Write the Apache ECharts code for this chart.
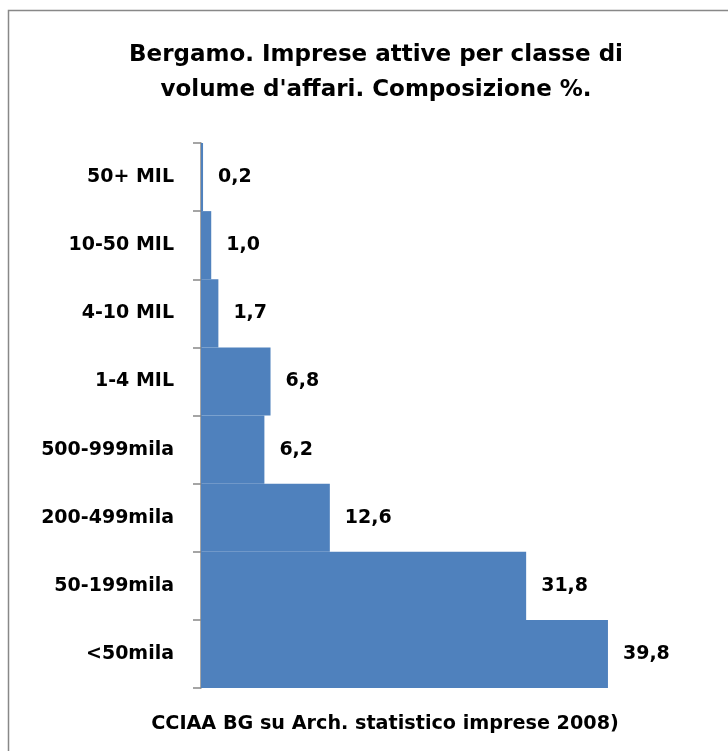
<!DOCTYPE html>
<html><head><meta charset="utf-8">
<script src="https://cdn.jsdelivr.net/npm/echarts@6/dist/echarts.min.js"></script>
<style>html,body{margin:0;padding:0;background:#fff}#c{width:728px;height:751px}</style>
</head><body><div id="c"></div>
<script>
const categories = ['<50mila','50-199mila','200-499mila','500-999mila','1-4 MIL','4-10 MIL','10-50 MIL','50+ MIL'];
const values = [39.8, 31.8, 12.6, 6.2, 6.8, 1.7, 1.0, 0.2];
const titleText = "Bergamo. Imprese attive per classe di\nvolume d'affari. Composizione %.";
const footText = "CCIAA BG su Arch. statistico imprese 2008)";
const FONT = '"DejaVu Sans"';
const chart = echarts.init(document.getElementById('c'), null, {renderer:'canvas'});
chart.setOption({
  backgroundColor:'#fff',
  animation:false,
  title:[
    {text:titleText, left:371, top:33, textAlign:'center',
     textStyle:{fontFamily:FONT, fontSize:23, fontWeight:'bold', color:'#000', lineHeight:35}},
    {text:footText, left:380, top:710, textAlign:'center',
     textStyle:{fontFamily:FONT, fontSize:19.2, fontWeight:'bold', color:'#000'}}
  ],
  graphic:[{type:'rect', shape:{x:8.5,y:10.5,width:800,height:800}, style:{fill:'none', stroke:'#888', lineWidth:1.5}, silent:true}],
  grid:{left:201, top:143, width:409, height:545},
  xAxis:{type:'value', min:0, max:40, show:false},
  yAxis:{type:'category', data:categories, boundaryGap:true,
    axisLine:{show:true, lineStyle:{color:'#888', width:1.5}},
    axisTick:{show:true, length:8, lineStyle:{color:'#888', width:1.5}},
    axisLabel:{fontFamily:FONT, fontSize:19, fontWeight:'bold', color:'#000', margin:27, padding:[4,0,0,0]},
    splitLine:{show:false}},
  series:[{type:'bar', data:values, barCategoryGap:'0%', barGap:'0%',
    itemStyle:{color:'#4F81BD'},
    label:{show:true, position:'right', distance:15, padding:[4,0,0,0],
      fontFamily:FONT, fontSize:19, fontWeight:'bold', color:'#000',
      formatter:p=>p.value.toFixed(1).replace('.',',')}}]
});
</script></body></html>
